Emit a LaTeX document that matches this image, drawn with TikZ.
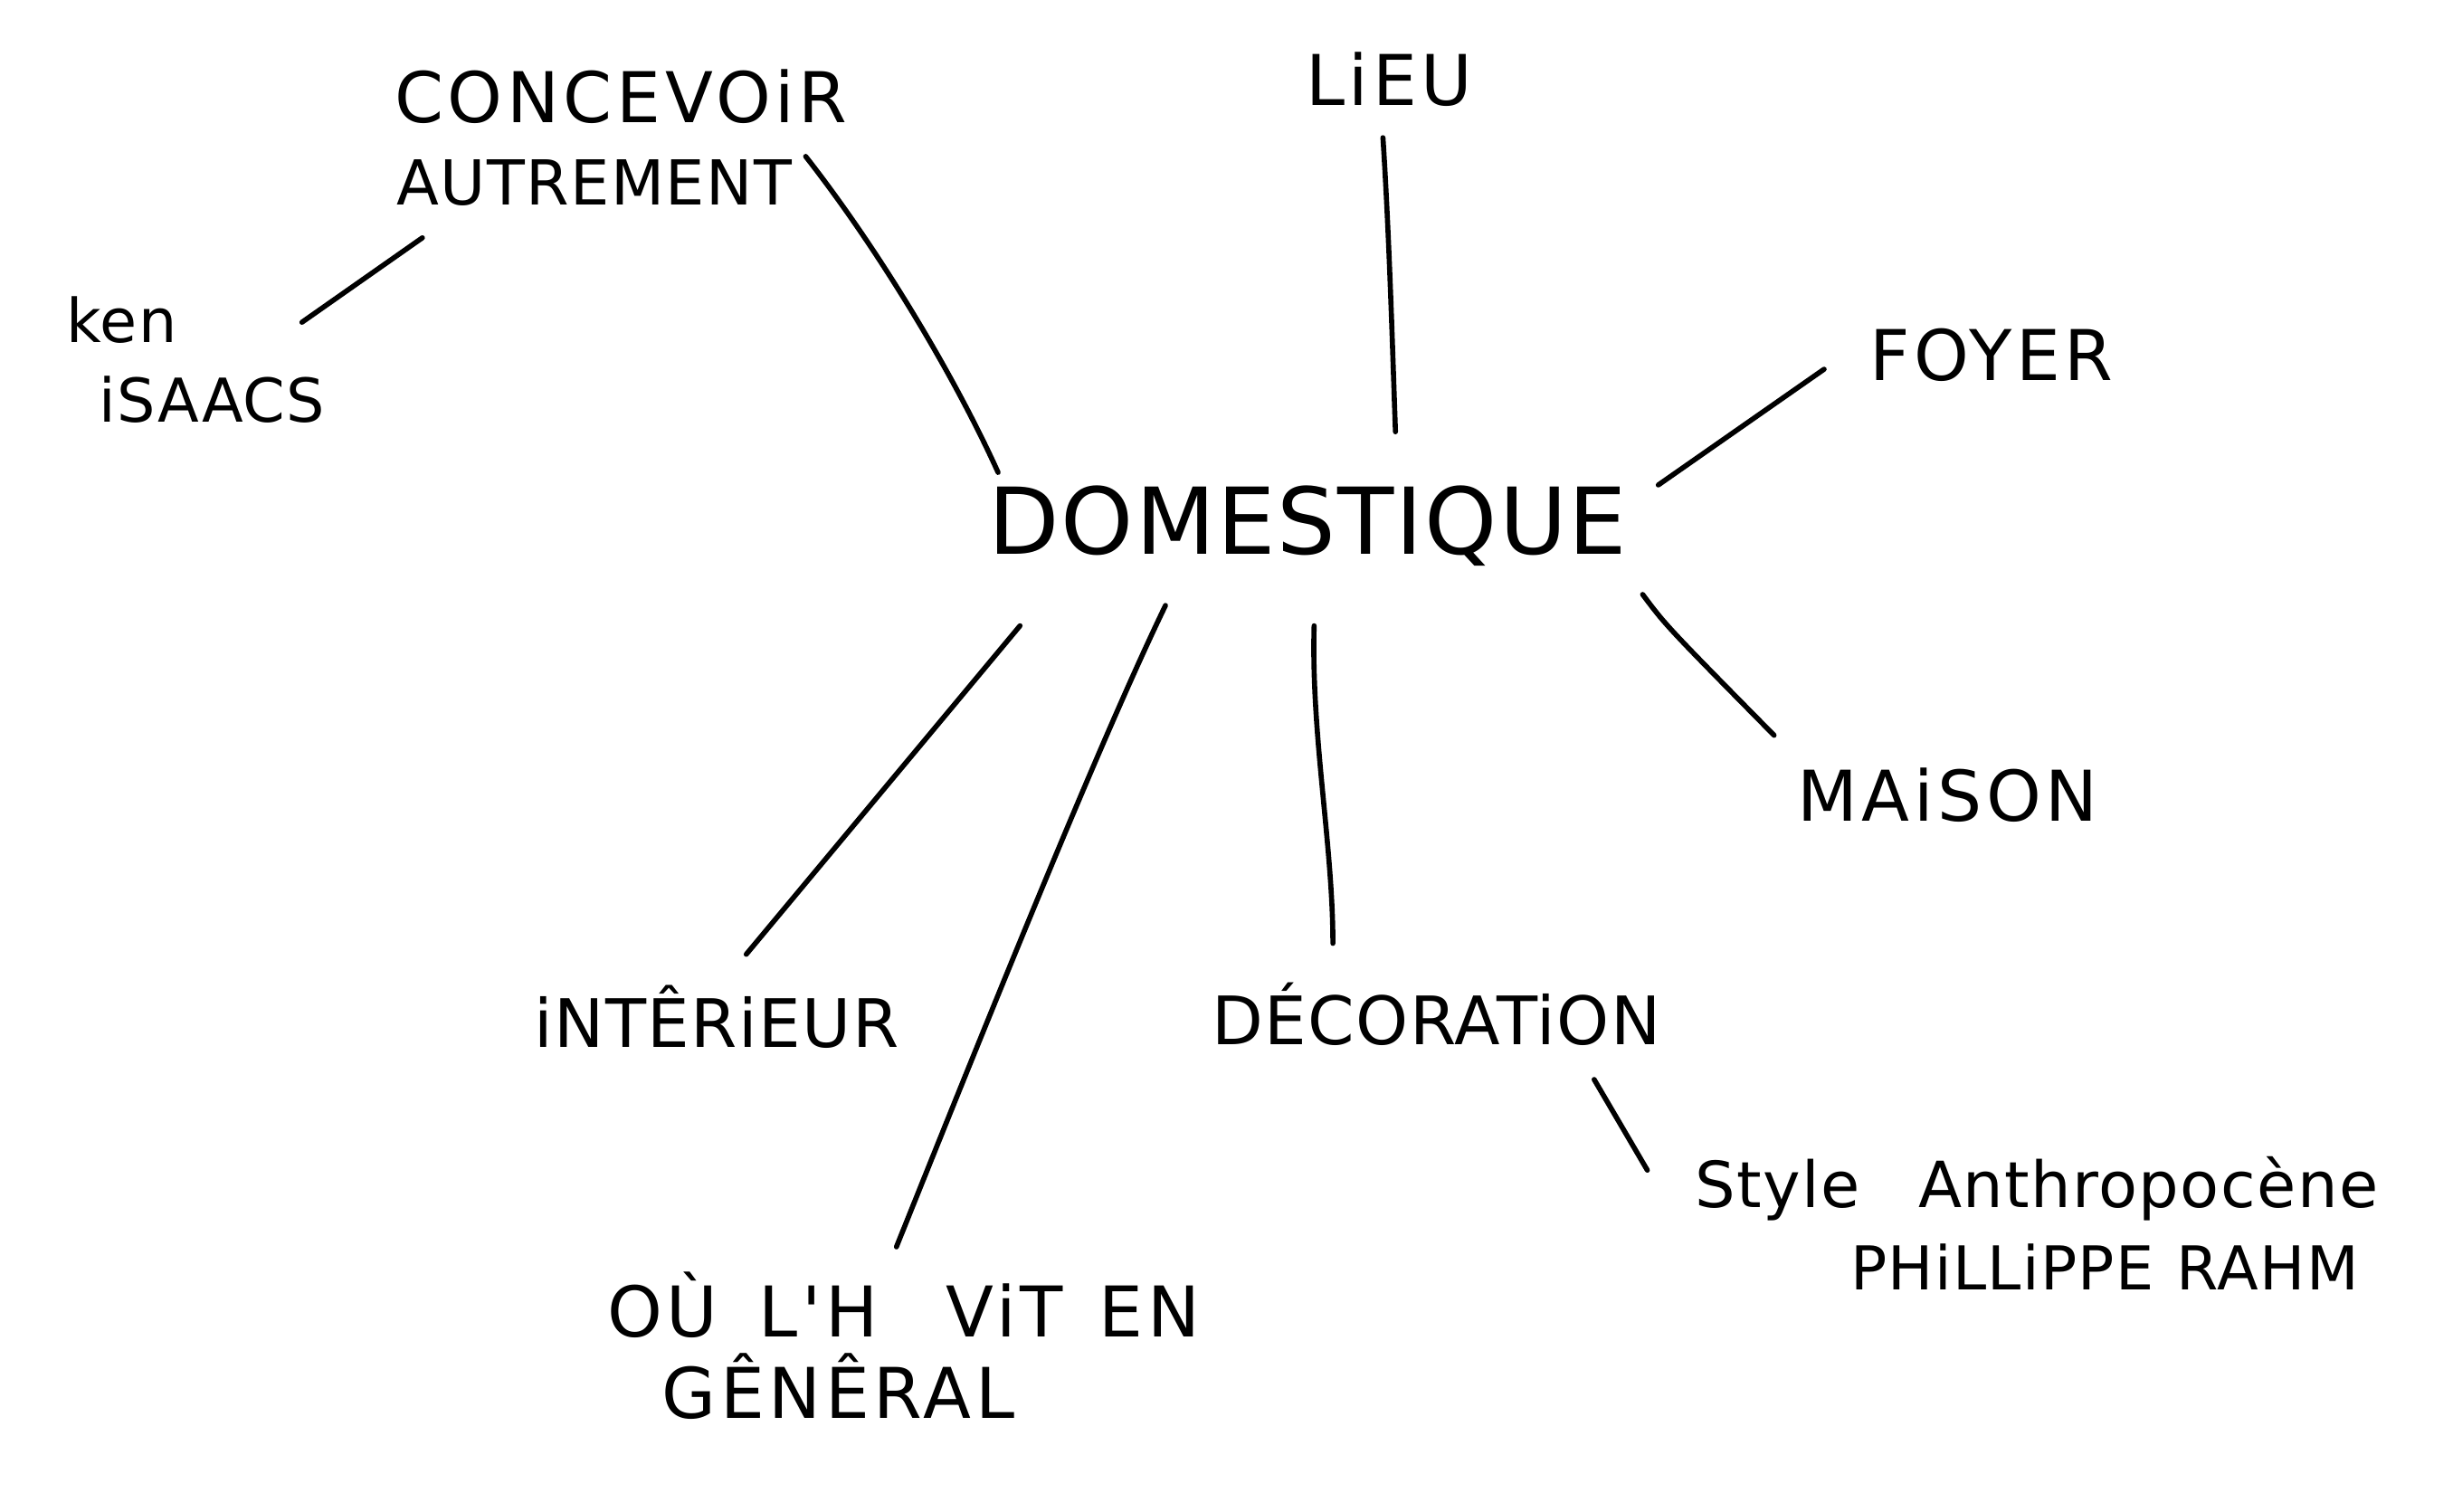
\documentclass[tikz,border=0pt]{standalone}
\usepackage{fontspec}
\setmainfont{DejaVu Sans}
\newfontfamily\hwfont[LetterSpace=6]{DejaVu Sans}
\newfontfamily\hwtight[LetterSpace=2]{DejaVu Sans}
\begin{document}
\begin{tikzpicture}[x=0.01729cm,y=-0.01729cm,
  lbl/.style={inner sep=0pt,font=\hwfont\fontsize{22}{27}\selectfont,align=left},
  big/.style={inner sep=0pt,font=\hwtight\fontsize{29}{34}\selectfont},
  small/.style={inner sep=0pt,font=\hwtight\fontsize{20}{26}\selectfont,align=left},
  stroke/.style={line width=1.6pt,line cap=round}]
\useasboundingbox[fill=white] (0,0) rectangle (1568,966);
% nodes
\node[big] (dom) at (836,336) {DOMESTIQUE};
\node[lbl,anchor=west] (conc) at (252,88) {CONCEVOiR\\[-1pt]\hspace{0.02cm}{\hwtight\fontsize{19.5}{25}\selectfont AUTREMENT}};
\node[lbl,anchor=west,font=\hwtight\fontsize{19}{25}\selectfont] (ken) at (42,230) {ken\\\hspace{0.36cm}iSAACS};
\node[lbl] (lieu) at (888,51) {LiEU};
\node[lbl] (foyer) at (1273,227) {FOYER};
\node[lbl] (maison) at (1245,508) {MAiSON};
\node[lbl,font=\hwtight\fontsize{21}{26}\selectfont] (inter) at (458,650) {iNTÊRiEUR};
\node[lbl,font=\hwtight\fontsize{21}{26}\selectfont] (deco) at (918,648) {DÉCORATiON};
\node[lbl,anchor=west,font=\hwfont\fontsize{22}{25.5}\selectfont] (ou) at (388,860) {OÙ\hspace{0.45cm}L'H\hspace{0.75cm}ViT\hspace{0.4cm}EN\\\hspace{0.6cm}GÊNÊRAL};
\node[small,anchor=west] (style) at (1083,782) {Style\hspace{0.65cm}Anthropocène\\\hspace{1.72cm}{\fontsize{19}{24}\selectfont PHiLLiPPE\hspace{0.25cm}RAHM}};
% connector ends
\coordinate (c1) at (515,100); \coordinate (c2) at (638,302);
\coordinate (k1) at (270,152); \coordinate (k2) at (193,206);
\coordinate (l1) at (884,88);  \coordinate (l2) at (892,276);
\coordinate (f1) at (1166,236); \coordinate (f2) at (1060,310);
\coordinate (m1) at (1050,380); \coordinate (m2) at (1134,470);
\coordinate (i1) at (652,400); \coordinate (i2) at (477,610);
\coordinate (o1) at (745,387); \coordinate (o2) at (573,797);
\coordinate (d1) at (840,400); \coordinate (d2) at (852,603);
\coordinate (s1) at (1019,690); \coordinate (s2) at (1053,748);
% connectors
\draw[stroke] (c1) .. controls (562,160) and (610,240) .. (c2);
\draw[stroke] (k1) -- (k2);
\draw[stroke] (l1) .. controls (888,150) and (890,220) .. (l2);
\draw[stroke] (f1) -- (f2);
\draw[stroke] (m1) .. controls (1065,400) .. (m2);
\draw[stroke] (i1) -- (i2);
\draw[stroke] (o1) .. controls (700,480) and (620,680) .. (o2);
\draw[stroke] (d1) .. controls (838,470) and (852,540) .. (d2);
\draw[stroke] (s1) -- (s2);
\end{tikzpicture}
\end{document}
